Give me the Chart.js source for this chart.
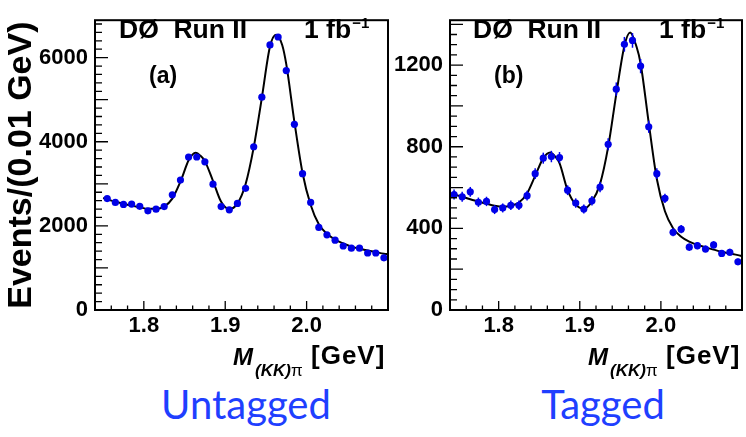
<!DOCTYPE html>
<html>
<head>
<meta charset="utf-8">
<script src="https://cdn.jsdelivr.net/npm/chart.js@4.4.0/dist/chart.umd.min.js"></script>
<style>
html, body { margin: 0; padding: 0; background: #fff; }
body { width: 746px; height: 437px; position: relative; overflow: hidden; font-family: "Liberation Sans", Arial, sans-serif; }
canvas { position: absolute; top: 0; }
#chartA { left: 0; }
#chartB { left: 390px; }
.lbl { position: absolute; white-space: pre; line-height: 1; font-weight: bold; color: #000; }
.sup { font-size: 15px; position: relative; top: -10px; margin-left: 1px; }
.tag { position: absolute; font-family: Lato, sans-serif; font-size: 40px; line-height: 1; color: #1f3fff; transform: translateX(-50%); white-space: nowrap; }
</style>
</head>
<body>
<canvas id="chartA" width="392" height="345"></canvas>
<canvas id="chartB" width="356" height="345"></canvas>

<div class="lbl" style="left:119px;top:16px;font-size:26.5px;">DØ  Run II</div>
<div class="lbl" style="left:304px;top:16px;font-size:26.5px;">1 fb<span class="sup">−1</span></div>
<div class="lbl" style="left:149px;top:64px;font-size:23px;">(a)</div>

<div class="lbl" style="left:473px;top:16px;font-size:26.5px;">DØ  Run II</div>
<div class="lbl" style="left:659px;top:16px;font-size:26.5px;">1 fb<span class="sup">−1</span></div>
<div class="lbl" style="left:494px;top:64px;font-size:23px;">(b)</div>

<div class="lbl" style="left:233px;top:344.5px;font-size:24px;font-style:italic;">M</div>
<div class="lbl" style="left:255px;top:361.6px;font-size:17px;"><i>(KK)</i><span style="font-weight:normal">π</span></div>
<div class="lbl" style="left:311px;top:342px;font-size:26px;letter-spacing:1px;">[GeV]</div>

<div class="lbl" style="left:588px;top:344.5px;font-size:24px;font-style:italic;">M</div>
<div class="lbl" style="left:610px;top:361.6px;font-size:17px;"><i>(KK)</i><span style="font-weight:normal">π</span></div>
<div class="lbl" style="left:666px;top:342px;font-size:26px;letter-spacing:1px;">[GeV]</div>

<div class="tag" style="left:246px;top:384px;">Untagged</div>
<div class="tag" style="left:603px;top:384px;">Tagged</div>

<script>
// bin centres (GeV)
const massUntagged = [1.755, 1.765, 1.775, 1.785, 1.795, 1.805, 1.815, 1.825, 1.835, 1.845,
    1.855, 1.865, 1.875, 1.885, 1.895, 1.905, 1.915, 1.925, 1.935, 1.945,
    1.955, 1.965, 1.975, 1.985, 1.995, 2.005, 2.015, 2.025, 2.035, 2.045,
    2.055, 2.065, 2.075, 2.085, 2.095];
const eventsUntagged = [2648, 2557, 2511, 2519, 2466, 2359, 2397, 2458, 2740, 3090,
    3638, 3638, 3523, 2991, 2458, 2382, 2534, 2892, 3881, 5061,
    6301, 6491, 5692, 4414, 3242, 2557, 1963, 1788, 1659, 1522,
    1469, 1469, 1355, 1355, 1240];

const massTagged = [1.745, 1.755, 1.765, 1.775, 1.785, 1.795, 1.805, 1.815, 1.825, 1.835,
    1.845, 1.855, 1.865, 1.875, 1.885, 1.895, 1.905, 1.915, 1.925, 1.935,
    1.945, 1.955, 1.965, 1.975, 1.985, 1.995, 2.005, 2.015, 2.025, 2.035,
    2.045, 2.055, 2.065, 2.075, 2.085, 2.095];
const eventsTagged = [566, 555, 579, 528, 532, 492, 500, 513, 513, 560,
    668, 744, 752, 747, 587, 524, 495, 535, 602, 812,
    1082, 1302, 1321, 1195, 898, 668, 547, 381, 396, 308,
    315, 299, 319, 277, 283, 236];
const errTagged = [24, 24, 24, 23, 23, 22, 22, 23, 23, 24,
    26, 27, 28, 27, 24, 23, 22, 23, 25, 29,
    33, 36, 36, 35, 30, 26, 23, 20, 20, 18,
    18, 17, 18, 17, 17, 16];

// fit curves
const fitMassA = [1.750, 1.755, 1.765, 1.775, 1.785, 1.795, 1.805, 1.815, 1.825, 1.835,
    1.845, 1.855, 1.860, 1.8635, 1.870, 1.875, 1.885, 1.895, 1.905, 1.915,
    1.925, 1.935, 1.945, 1.955, 1.9625, 1.970, 1.975, 1.985, 1.995, 2.005,
    2.015, 2.025, 2.035, 2.045, 2.055, 2.065, 2.075, 2.085, 2.095, 2.100];
const fitA = [2664, 2633, 2572, 2527, 2481, 2443, 2405, 2405, 2458, 2648,
    3052, 3560, 3700, 3740, 3660, 3540, 3067, 2572, 2397, 2534,
    2991, 3866, 5045, 6263, 6545, 6300, 5845, 4475, 3257, 2496,
    2039, 1811, 1674, 1583, 1507, 1454, 1415, 1377, 1339, 1324];

const fitMassB = [1.740, 1.745, 1.755, 1.765, 1.775, 1.785, 1.795, 1.805, 1.815, 1.825,
    1.835, 1.845, 1.855, 1.8635, 1.870, 1.875, 1.885, 1.895, 1.905, 1.915,
    1.925, 1.935, 1.945, 1.955, 1.962, 1.970, 1.975, 1.985, 1.995, 2.005,
    2.015, 2.025, 2.035, 2.045, 2.055, 2.065, 2.075, 2.085, 2.095, 2.100];
const fitB = [570, 566, 555, 543, 532, 521, 511, 506, 511, 527,
    571, 657, 744, 772, 750, 720, 587, 516, 497, 532,
    618, 799, 1058, 1294, 1360, 1290, 1208, 917, 642, 484,
    401, 359, 335, 319, 307, 296, 285, 277, 269, 264];

const massTicks = [1.8, 1.9, 2.0];
const yTicksA = [0, 2000, 4000, 6000];
const yTicksB = [0, 400, 800, 1200];

function pts(xs, ys) {
    return xs.map((x, i) => ({ x: x, y: ys[i] }));
}
function steps(from, to, step) {
    const out = [];
    for (let v = from; v <= to + 1e-9; v += step) out.push(+v.toFixed(4));
    return out;
}

// ROOT-like frame with inward tick marks, plus vertical error bars
const frameTicks = {
    id: 'frameTicks',
    afterDatasetsDraw(chart, args, opts) {
        const { ctx, chartArea: a, scales: { x, y } } = chart;
        ctx.save();
        if (opts.err) {
            ctx.strokeStyle = '#0000ee';
            ctx.lineWidth = 1.5;
            opts.err.forEach((e, i) => {
                const px = x.getPixelForValue(opts.errX[i]);
                ctx.beginPath();
                ctx.moveTo(px, y.getPixelForValue(opts.errY[i] - e));
                ctx.lineTo(px, y.getPixelForValue(opts.errY[i] + e));
                ctx.stroke();
            });
        }
        ctx.strokeStyle = '#000';
        ctx.lineWidth = 1.3;
        ctx.beginPath();
        opts.xMinor.forEach(v => {
            const px = x.getPixelForValue(v);
            ctx.moveTo(px, a.bottom); ctx.lineTo(px, a.bottom - 4.5);
        });
        opts.xMajor.forEach(v => {
            const px = x.getPixelForValue(v);
            ctx.moveTo(px, a.bottom); ctx.lineTo(px, a.bottom - 9);
        });
        opts.yMinor.forEach(v => {
            const py = y.getPixelForValue(v);
            if (py < a.top) return;
            ctx.moveTo(a.left, py); ctx.lineTo(a.left + 7, py);
        });
        opts.yMajor.forEach(v => {
            const py = y.getPixelForValue(v);
            if (py < a.top) return;
            ctx.moveTo(a.left, py); ctx.lineTo(a.left + 13, py);
        });
        ctx.stroke();
        ctx.lineWidth = 2;
        ctx.strokeRect(a.left, a.top, a.right - a.left, a.bottom - a.top);
        ctx.restore();
    }
};

function makeChart(id, cfg) {
    return new Chart(document.getElementById(id), {
        type: 'scatter',
        data: {
            datasets: [
                {
                    data: pts(cfg.xs, cfg.ys),
                    showLine: false,
                    pointRadius: 3.6,
                    pointBackgroundColor: '#0000e6',
                    pointBorderWidth: 0
                },
                {
                    data: pts(cfg.fitX, cfg.fitY),
                    showLine: true,
                    pointRadius: 0,
                    borderColor: '#000',
                    borderWidth: 2,
                    cubicInterpolationMode: 'monotone'
                }
            ]
        },
        options: {
            responsive: false,
            animation: false,
            events: [],
            layout: { padding: { top: cfg.top, right: cfg.right, left: 0, bottom: 0 } },
            plugins: {
                legend: { display: false },
                tooltip: { enabled: false },
                frameTicks: {
                    xMajor: massTicks,
                    xMinor: steps(1.74, 2.10, 0.02),
                    yMajor: steps(0, cfg.ymax, cfg.yMajorStep),
                    yMinor: steps(0, cfg.ymax, cfg.yMinorStep),
                    err: cfg.err, errX: cfg.xs, errY: cfg.ys
                }
            },
            scales: {
                x: {
                    type: 'linear',
                    min: 1.74, max: 2.10,
                    grid: { display: false, drawTicks: false },
                    border: { display: false },
                    afterBuildTicks: s => { s.ticks = massTicks.map(v => ({ value: v })); },
                    afterFit: s => { s.height = 35; },
                    ticks: {
                        padding: 3,
                        color: '#000',
                        font: { family: '"Liberation Sans", Arial', size: 22, weight: 'bold' },
                        callback: v => v.toFixed(1)
                    }
                },
                y: {
                    min: 0, max: cfg.ymax,
                    grid: { display: false, drawTicks: false },
                    border: { display: false },
                    afterBuildTicks: s => { s.ticks = cfg.yTicks.map(v => ({ value: v })); },
                    afterFit: s => { s.width = cfg.yWidth; },
                    title: {
                        display: cfg.yTitle !== '',
                        text: cfg.yTitle,
                        color: '#000',
                        padding: { top: 1, bottom: 0 },
                        font: { family: '"Liberation Sans", Arial', size: 34, weight: 'bold' }
                    },
                    ticks: {
                        padding: 7,
                        color: '#000',
                        font: { family: '"Liberation Sans", Arial', size: 22, weight: 'bold' },
                        callback: v => String(v)
                    }
                }
            }
        },
        plugins: [frameTicks]
    });
}

makeChart('chartA', {
    xs: massUntagged, ys: eventsUntagged, fitX: fitMassA, fitY: fitA,
    ymax: 6890, yTicks: yTicksA, yMajorStep: 1000, yMinorStep: 200,
    yWidth: 95, top: 8, right: 3, yTitle: 'Events/(0.01 GeV)', err: null
});
makeChart('chartB', {
    xs: massTagged, ys: eventsTagged, fitX: fitMassB, fitY: fitB,
    ymax: 1420, yTicks: yTicksB, yMajorStep: 200, yMinorStep: 50,
    yWidth: 60, top: 7.5, right: 1, yTitle: '', err: errTagged
});
</script>
</body>
</html>
